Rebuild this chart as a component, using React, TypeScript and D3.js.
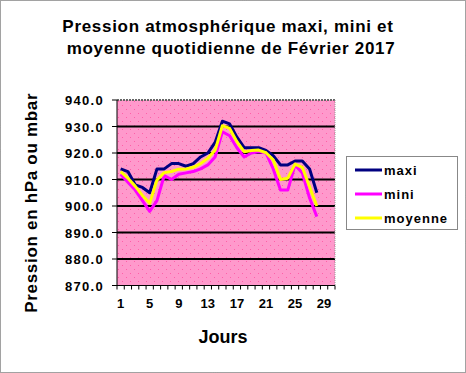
import React from "react";
import * as d3 from "d3";

const days: number[] = d3.range(1, 31);
const xTickLabels: number[] = [1, 5, 9, 13, 17, 21, 25, 29];
const yTicks: number[] = [870, 880, 890, 900, 910, 920, 930, 940];

const maxi: number[] = [914, 913, 908, 907, 905, 914, 914, 916, 916, 915, 916, 918.5, 920, 924, 932, 931, 926, 922, 922, 922, 921, 919, 915.5, 915.5, 917, 917, 914, 905];
const mini: number[] = [912, 909, 906, 902, 898, 902, 911.5, 910, 912, 912.5, 913, 914, 915.5, 918.5, 928, 926.5, 922, 918.5, 920, 920.5, 920, 914, 906, 906, 915.5, 912.5, 903, 896];
const moyenne: number[] = [913, 910.5, 907.5, 904, 901, 909.8, 912.6, 913, 913.9, 914, 914.6, 916, 918, 921, 930.3, 929.3, 924.3, 920.5, 920.9, 921.1, 920.1, 917.4, 910, 910.5, 915.8, 914.6, 907.3, 900];

const seriesNames = ["maxi", "mini", "moyenne"];
const seriesColors = ["#000080", "#FF00FF", "#FFFF00"];
const seriesData = [maxi, mini, moyenne];

const W = 466, H = 373;
const L = 117, R = 335, T = 100, B = 285.5;

export default function App() {
  const x = d3.scaleBand<number>().domain(days).range([L, R]);
  const y = d3.scaleLinear().domain([870, 940]).range([B, T]);
  const cx = (d: number) => (x(d) as number) + x.bandwidth() / 2;
  const line = d3
    .line<number>()
    .x((_, i) => cx(days[i]))
    .y((v) => y(v));
  const font = "Arial, 'Liberation Sans', sans-serif";
  const boundaries = d3.range(0, days.length + 1).map((i) => L + i * x.step());

  return (
    <svg width={W} height={H} style={{ position: "absolute", left: 0, top: 0 }} fontFamily={font}>
      <defs>
        <pattern id="dots" width="8" height="8" patternUnits="userSpaceOnUse" x={L} y={T}>
          <rect width="8" height="8" fill="#FF99CC" />
          <rect x="1" y="1" width="1" height="1" fill="#FF5FA8" />
          <rect x="5" y="5" width="1" height="1" fill="#FF5FA8" />
        </pattern>
      </defs>
      <rect x={0} y={0} width={W} height={H} fill="#fff" />
      <rect x={0.5} y={0.5} width={W - 1} height={H - 1} fill="none" stroke="#444" strokeDasharray="1,1" />
      <text x={228} y={32} textAnchor="middle" fontSize={17} fontWeight="bold" letterSpacing={0.7}>
        Pression atmosphérique maxi, mini et
      </text>
      <text x={231} y={54} textAnchor="middle" fontSize={17} fontWeight="bold" letterSpacing={0.7}>
        moyenne quotidienne de Février 2017
      </text>

      <rect x={L} y={T} width={R - L} height={B - T} fill="url(#dots)" />
      {yTicks.slice(1, -1).map((t) => (
        <line key={t} x1={L} x2={R} y1={y(t)} y2={y(t)} stroke="#000" strokeWidth={2} />
      ))}
      <line x1={L} x2={R} y1={T} y2={T} stroke="#666" strokeWidth={2} strokeDasharray="2,1" />
      <line x1={R} x2={R} y1={T} y2={B} stroke="#999" strokeWidth={1} strokeDasharray="1,1" />

      {seriesData.map((s, i) => (
        <path key={i} d={line(s) as string} fill="none" stroke={seriesColors[i]} strokeWidth={3} strokeLinejoin="round" />
      ))}

      <line x1={L} x2={L} y1={T} y2={B} stroke="#000" strokeWidth={1} />
      <line x1={L} x2={R} y1={B} y2={B} stroke="#000" strokeWidth={1} />
      {yTicks.map((t) => (
        <g key={t}>
          <line x1={L - 5} x2={L} y1={y(t)} y2={y(t)} stroke="#000" />
          <text x={104} y={y(t) + 5} textAnchor="end" fontSize={13} fontWeight="bold" letterSpacing={1.3}>
            {t.toFixed(1)}
          </text>
        </g>
      ))}
      {boundaries.map((bx, i) => (
        <line key={i} x1={bx} x2={bx} y1={B} y2={B + 4} stroke="#000" />
      ))}
      {xTickLabels.map((d) => (
        <text key={d} x={cx(d)} y={308} textAnchor="middle" fontSize={13} fontWeight="bold">
          {d}
        </text>
      ))}
      <text x={223} y={343} textAnchor="middle" fontSize={18} fontWeight="bold">
        Jours
      </text>
      <text
        transform={`translate(37,${(T + B) / 2 + 10}) rotate(-90)`}
        textAnchor="middle"
        fontSize={17}
        fontWeight="bold"
        letterSpacing={0.7}
      >
        Pression en hPa ou mbar
      </text>

      <rect x={346.5} y={156.5} width={111} height={73} fill="#fff" stroke="#888" />
      {seriesNames.map((n, i) => (
        <g key={n}>
          <line x1={355} x2={382} y1={170 + i * 24} y2={170 + i * 24} stroke={seriesColors[i]} strokeWidth={3} />
          <text x={384} y={175 + i * 24} fontSize={13} fontWeight="bold" letterSpacing={1}>
            {n}
          </text>
        </g>
      ))}
    </svg>
  );
}
